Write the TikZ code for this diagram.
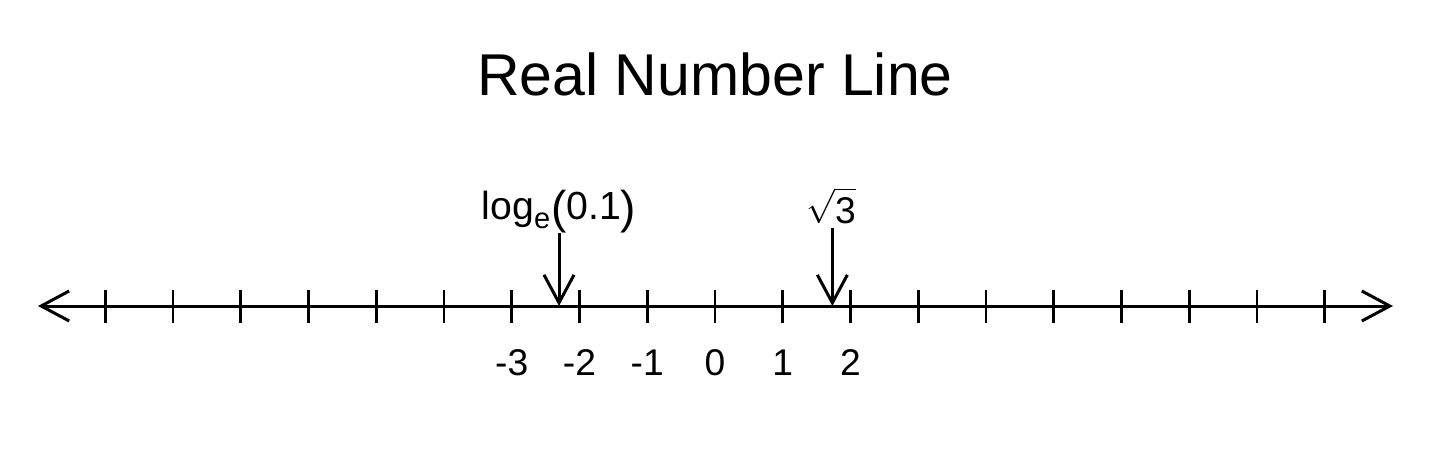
\documentclass[tikz,border=0pt]{standalone}
\usepackage{fontspec}
\setmainfont{Liberation Sans}
\usetikzlibrary{arrows.meta}
\begin{document}
\begin{tikzpicture}[x=0.5pt,y=-0.5pt,
  axis/.style={line width=1.5pt},
  barb/.style={-{Straight Barb[length=14pt,width=15pt]}},
  tickmark/.style={line width=1.4pt},
  lab/.style={font=\fontsize{18.6}{20}\selectfont, anchor=base, inner sep=0pt},
  annot/.style={font=\fontsize{19.6}{21}\selectfont, anchor=base, inner sep=0pt},
  titlestyle/.style={font=\fontsize{29.5}{32}\selectfont, anchor=base, inner sep=0pt}]
\useasboundingbox (0,0) rectangle (1445,461);
\node[titlestyle] (title) at (715,95.7) {Real Number Line};
\coordinate (L) at (38,306);
\coordinate (R) at (1393,306);
\draw[axis,{Straight Barb[length=14pt,width=15pt]}-{Straight Barb[length=14pt,width=15pt]}] (L) -- (R);
\foreach \k in {-9,...,9}{
  \coordinate (ta\k) at ({715+67.75*\k},289.5);
  \coordinate (tb\k) at ({715+67.75*\k},322.5);
  \draw[tickmark] (ta\k) -- (tb\k);
}
\foreach \k in {-3,...,2}{
  \node[lab] (n\k) at ({715+67.75*\k},375) {\k};
}
\node[annot] (logl) at (559,219) {log\raisebox{-4.5pt}{\fontsize{14.5}{15}\selectfont e}\hspace{0.5pt}\raisebox{-2pt}{\fontsize{23}{24}\selectfont (}0.1\raisebox{-2pt}{\fontsize{23}{24}\selectfont )}};
\coordinate (logp) at ({715-2.302585*67.75},306);
\draw[axis,barb] (logl.south -| logp) -- (logp);
\node[lab] (sq) at (831,223) {$\sqrt{\mbox{3}\rule{0pt}{15.8pt}}$};
\coordinate (sqp) at ({715+1.7320508*67.75},306);
\coordinate (sqa) at ([yshift=-2pt]sq.south);
\draw[axis,barb] (sqa -| sqp) -- (sqp);
\end{tikzpicture}
\end{document}
